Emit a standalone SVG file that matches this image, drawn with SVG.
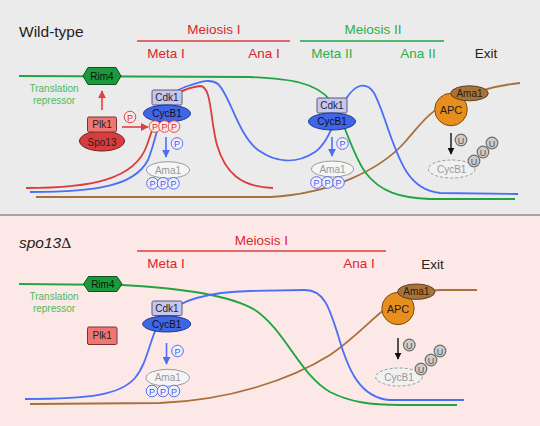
<svg xmlns="http://www.w3.org/2000/svg" width="540" height="426" viewBox="0 0 540 426">
<defs>
<style>
text{font-family:"Liberation Sans",Arial,sans-serif}
.hdr{font-size:13.5px;text-anchor:middle}
.red{fill:#d9262e}
.grn{fill:#2eae48}
.nl{font-size:10px;text-anchor:middle;dominant-baseline:central}
.curve{fill:none;stroke-width:1.8}
.cr{stroke:#de3c3c}.cb{stroke:#4a6ef5}.cg{stroke:#22a443}.cn{stroke:#a8703a}
.rim{fill:#1a9a3c;stroke:#0b5220;stroke-width:1}
.cdk{fill:#c6c6f3;stroke:#5a5a6a;stroke-width:1}
.cyc{fill:#3f66e8;stroke:#1f358a;stroke-width:1}
.ama{fill:#f5f5f5;stroke:#9a9a9a;stroke-width:1}
.pb{fill:#eef0ff;stroke:#5a6ef0;stroke-width:1}
.pr{fill:#fde8e8;stroke:#e04a4a;stroke-width:1}
.pbt{font-size:9px;text-anchor:middle;dominant-baseline:central;fill:#4a5ee0}
.prt{font-size:9px;text-anchor:middle;dominant-baseline:central;fill:#d03030}
.u{fill:#cdcdcd;stroke:#6e6e6e;stroke-width:1.2}
.ut{font-size:9px;text-anchor:middle;dominant-baseline:central;fill:#555}
.apc{fill:#e88e1c;stroke:#7a4f10;stroke-width:1}
.bama{fill:#a8733a;stroke:#5e3f1c;stroke-width:1}
.deg{fill:#f1f1f1;stroke:#9a9a9a;stroke-width:1;stroke-dasharray:3,2}
.plk{fill:#f07674;stroke:#7a3030;stroke-width:1}
.spo{fill:#d73d3d;stroke:#6e1e1e;stroke-width:1}
</style>
<marker id="ar" viewBox="0 0 10 10" refX="9" refY="5" markerWidth="5" markerHeight="5" orient="auto"><path d="M0,0L10,5L0,10z" fill="#e04040"/></marker>
<marker id="ab" viewBox="0 0 10 10" refX="9" refY="5" markerWidth="5" markerHeight="5" orient="auto"><path d="M0,0L10,5L0,10z" fill="#4a6ef5"/></marker>
<marker id="ak" viewBox="0 0 10 10" refX="9" refY="5" markerWidth="5" markerHeight="5" orient="auto"><path d="M0,0L10,5L0,10z" fill="#111"/></marker>
</defs>

<rect x="0" y="0" width="540" height="215" fill="#ebebeb"/>
<rect x="0" y="215" width="540" height="211" fill="#fde8e8"/>
<line x1="0" y1="215" x2="540" y2="215" stroke="#a6a6a6" stroke-width="2"/>

<!-- top labels -->
<text x="19" y="36.5" font-size="15.5" fill="#222">Wild-type</text>
<text class="hdr red" x="214" y="34">Meiosis I</text>
<line x1="137" y1="41" x2="290" y2="41" stroke="#de3c3c" stroke-width="1.6"/>
<text class="hdr red" x="166" y="58">Meta I</text>
<text class="hdr red" x="264" y="58">Ana I</text>
<text class="hdr grn" x="373" y="34">Meiosis II</text>
<line x1="300" y1="41" x2="444" y2="41" stroke="#22a443" stroke-width="1.6"/>
<text class="hdr grn" x="332" y="58">Meta II</text>
<text class="hdr grn" x="418" y="58">Ana II</text>
<text class="hdr" x="486" y="58" fill="#222">Exit</text>
<text x="54" y="92" font-size="10" text-anchor="middle" fill="#4cbb5c">Translation</text>
<text x="54" y="104" font-size="10" text-anchor="middle" fill="#4cbb5c">repressor</text>

<!-- bottom labels -->
<text x="19" y="247.5" font-size="15.5" fill="#222" font-style="italic">spo13<tspan font-family="Liberation Serif,serif" font-style="normal">Δ</tspan></text>
<text class="hdr red" x="261.5" y="245">Meiosis I</text>
<line x1="137" y1="251" x2="386" y2="251" stroke="#de3c3c" stroke-width="1.6"/>
<text class="hdr red" x="166" y="268">Meta I</text>
<text class="hdr red" x="359" y="268">Ana I</text>
<text class="hdr" x="432.5" y="269" fill="#222">Exit</text>
<text x="54" y="300" font-size="10" text-anchor="middle" fill="#4cbb5c">Translation</text>
<text x="54" y="312" font-size="10" text-anchor="middle" fill="#4cbb5c">repressor</text>

<g id="connectors">
<!-- top curves -->
<path class="curve cn" d="M36,197 L270,197 C330,194 380,170 405,142 C420,125 430,110 450,102 C470,94 490,86 520,83"/>
<path class="curve cg" d="M19,76 L250,77 C290,79 315,82 330,100 C345,120 350,150 365,172 C380,192 400,198 430,199 L515,199"/>
<path class="curve cr" d="M26,188 C90,188 135,180 147,145 C155,120 165,90 200,86 C212,86 210,120 217,145 C225,172 240,187 273,188"/>
<path class="curve cb" d="M30,192 C100,192 135,185 148,160 C160,130 160,95 185,87 C200,82 210,78 218,84 C230,95 238,135 258,150 C275,162 295,165 315,152 C335,138 340,92 360,86 C372,83 376,95 385,120 C400,165 410,190 440,193 L518,194"/>
<!-- bottom curves -->
<path class="curve cn" d="M30,404 L160,403 C230,400 290,380 330,355 C355,338 370,320 390,305 C405,295 420,291 440,290 L477,290"/>
<path class="curve cg" d="M19,284 L122,285 C180,288 230,295 255,310 C285,330 300,375 330,392 C350,402 370,405 400,405 L457,405"/>
<path class="curve cb" d="M25,399 C90,399 120,395 135,378 C150,360 150,330 165,315 C180,300 210,292 250,291 L305,290 C325,290 330,310 338,335 C348,370 360,398 390,400 L464,400"/>
<!-- arrows -->
<line x1="102" y1="110" x2="102" y2="91" stroke="#e04040" stroke-width="1.6" marker-end="url(#ar)"/>
<line x1="122" y1="127" x2="148" y2="127" stroke="#e04040" stroke-width="1.6" marker-end="url(#ar)"/>
<line x1="166" y1="137" x2="166" y2="157" stroke="#4a6ef5" stroke-width="1.6" marker-end="url(#ab)"/>
<line x1="332" y1="137" x2="332" y2="156" stroke="#4a6ef5" stroke-width="1.6" marker-end="url(#ab)"/>
<line x1="451" y1="133" x2="451" y2="154" stroke="#111" stroke-width="1.4" marker-end="url(#ak)"/>
<line x1="166.5" y1="343" x2="166.5" y2="364" stroke="#4a6ef5" stroke-width="1.6" marker-end="url(#ab)"/>
<line x1="398" y1="338" x2="398" y2="359" stroke="#111" stroke-width="1.4" marker-end="url(#ak)"/>
</g>

<!-- TOP NODES -->
<g id="rim4-wt"><polygon class="rim" points="83,76 88,67.5 116,67.5 121,76 116,84.5 88,84.5"/><text class="nl" x="102" y="76" fill="#111">Rim4</text></g>
<g id="plk1-spo13"><ellipse class="spo" cx="102" cy="141" rx="22.5" ry="10"/><rect class="plk" x="87.5" y="117" width="29" height="15" rx="1.5"/><text class="nl" x="102" y="124.5" fill="#222">Plk1</text><text class="nl" x="102" y="142.5" fill="#222">Spo13</text></g>
<g id="p-plk"><circle class="pr" cx="130" cy="117" r="5.8"/><text class="prt" x="130" y="117.5">P</text></g>
<g id="cdk-meta1"><rect class="cdk" x="152" y="90" width="30" height="15" rx="1.5"/><text class="nl" x="167" y="97.5" fill="#222">Cdk1</text><ellipse class="cyc" cx="167" cy="113.5" rx="23.5" ry="8.5"/><text class="nl" x="167" y="113.5" fill="#111">CycB1</text></g>
<g id="p-cyc-meta1"><circle class="pr" cx="155" cy="126.5" r="5.8"/><text class="prt" x="155" y="127">P</text><circle class="pr" cx="164.5" cy="126.5" r="5.8"/><text class="prt" x="164.5" y="127">P</text><circle class="pr" cx="174" cy="126.5" r="5.8"/><text class="prt" x="174" y="127">P</text></g>
<g id="p-meta1"><circle class="pb" cx="177" cy="143.5" r="5.8"/><text class="pbt" x="177" y="144">P</text></g>
<g id="ama1-meta1"><ellipse class="ama" cx="168" cy="170" rx="21.5" ry="8.3"/><text class="nl" x="168" y="170" fill="#999">Ama1</text><circle class="pb" cx="152.5" cy="183.3" r="5.8"/><text class="pbt" x="152.5" y="183.8">P</text><circle class="pb" cx="163" cy="183.3" r="5.8"/><text class="pbt" x="163" y="183.8">P</text><circle class="pb" cx="173.5" cy="183.3" r="5.8"/><text class="pbt" x="173.5" y="183.8">P</text></g>

<g id="cdk-meta2"><rect class="cdk" x="317" y="98" width="30" height="15" rx="1.5"/><text class="nl" x="332" y="105.5" fill="#222">Cdk1</text><ellipse class="cyc" cx="332" cy="121.5" rx="23.5" ry="8.5"/><text class="nl" x="332" y="121.5" fill="#111">CycB1</text></g>
<g id="p-meta2"><circle class="pb" cx="342.5" cy="143.5" r="5.8"/><text class="pbt" x="342.5" y="144">P</text></g>
<g id="ama1-meta2"><ellipse class="ama" cx="332.5" cy="169" rx="21" ry="8"/><text class="nl" x="332.5" y="169" fill="#999">Ama1</text><circle class="pb" cx="316.5" cy="182.5" r="5.8"/><text class="pbt" x="316.5" y="183">P</text><circle class="pb" cx="327.5" cy="182.5" r="5.8"/><text class="pbt" x="327.5" y="183">P</text><circle class="pb" cx="338.5" cy="182.5" r="5.8"/><text class="pbt" x="338.5" y="183">P</text></g>

<g id="apc-wt"><circle class="apc" cx="451" cy="109.5" r="16.3"/><text x="451" y="109.5" font-size="11" text-anchor="middle" dominant-baseline="central" fill="#222">APC</text><ellipse class="bama" cx="469.5" cy="93.3" rx="18.8" ry="7.5"/><text class="nl" x="469.5" y="93.3" fill="#2a1c0a">Ama1</text></g>
<g id="u-wt"><circle class="u" cx="461" cy="140" r="5.8"/><text class="ut" x="461" y="140.5">U</text></g>
<g id="cycb1-deg-wt"><ellipse class="deg" cx="451.7" cy="169" rx="23.3" ry="9"/><text class="nl" x="451.7" y="169" fill="#999">CycB1</text><circle class="u" cx="474" cy="161" r="5.8"/><text class="ut" x="474" y="161.5">U</text><circle class="u" cx="483" cy="152" r="5.8"/><text class="ut" x="483" y="152.5">U</text><circle class="u" cx="492" cy="143" r="5.8"/><text class="ut" x="492" y="143.5">U</text></g>

<!-- BOTTOM NODES -->
<g id="rim4-spo"><polygon class="rim" points="83.5,284 88.5,276.5 117,276.5 122,284 117,291.5 88.5,291.5"/><text class="nl" x="102.8" y="284" fill="#111">Rim4</text></g>
<g id="plk1-spo"><rect class="plk" x="87.5" y="327" width="29.5" height="17.5" rx="1.5"/><text class="nl" x="102.2" y="335.8" fill="#222">Plk1</text></g>
<g id="cdk-spo"><rect class="cdk" x="152" y="301" width="30" height="14.5" rx="1.5"/><text class="nl" x="167" y="308.2" fill="#222">Cdk1</text><ellipse class="cyc" cx="166.7" cy="324" rx="24" ry="8"/><text class="nl" x="166.7" y="324" fill="#111">CycB1</text></g>
<g id="p-spo"><circle class="pb" cx="177.5" cy="351" r="5.8"/><text class="pbt" x="177.5" y="351.5">P</text></g>
<g id="ama1-spo"><ellipse class="ama" cx="167.7" cy="377.8" rx="21.7" ry="8.5"/><text class="nl" x="167.7" y="377.8" fill="#999">Ama1</text><circle class="pb" cx="152" cy="391" r="5.8"/><text class="pbt" x="152" y="391.5">P</text><circle class="pb" cx="163" cy="391" r="5.8"/><text class="pbt" x="163" y="391.5">P</text><circle class="pb" cx="174" cy="391" r="5.8"/><text class="pbt" x="174" y="391.5">P</text></g>
<g id="apc-spo"><circle class="apc" cx="398" cy="308.5" r="16.2"/><text x="398" y="308.5" font-size="11" text-anchor="middle" dominant-baseline="central" fill="#222">APC</text><ellipse class="bama" cx="416.3" cy="291.7" rx="18.7" ry="7.7"/><text class="nl" x="416.3" y="291.7" fill="#2a1c0a">Ama1</text></g>
<g id="u-spo"><circle class="u" cx="409.3" cy="345" r="5.8"/><text class="ut" x="409.3" y="345.5">U</text></g>
<g id="cycb1-deg-spo"><ellipse class="deg" cx="399" cy="377" rx="23.3" ry="9"/><text class="nl" x="399" y="377" fill="#999">CycB1</text><circle class="u" cx="421" cy="369" r="5.8"/><text class="ut" x="421" y="369.5">U</text><circle class="u" cx="431" cy="360" r="5.8"/><text class="ut" x="431" y="360.5">U</text><circle class="u" cx="440" cy="351" r="5.8"/><text class="ut" x="440" y="351.5">U</text></g>
</svg>
